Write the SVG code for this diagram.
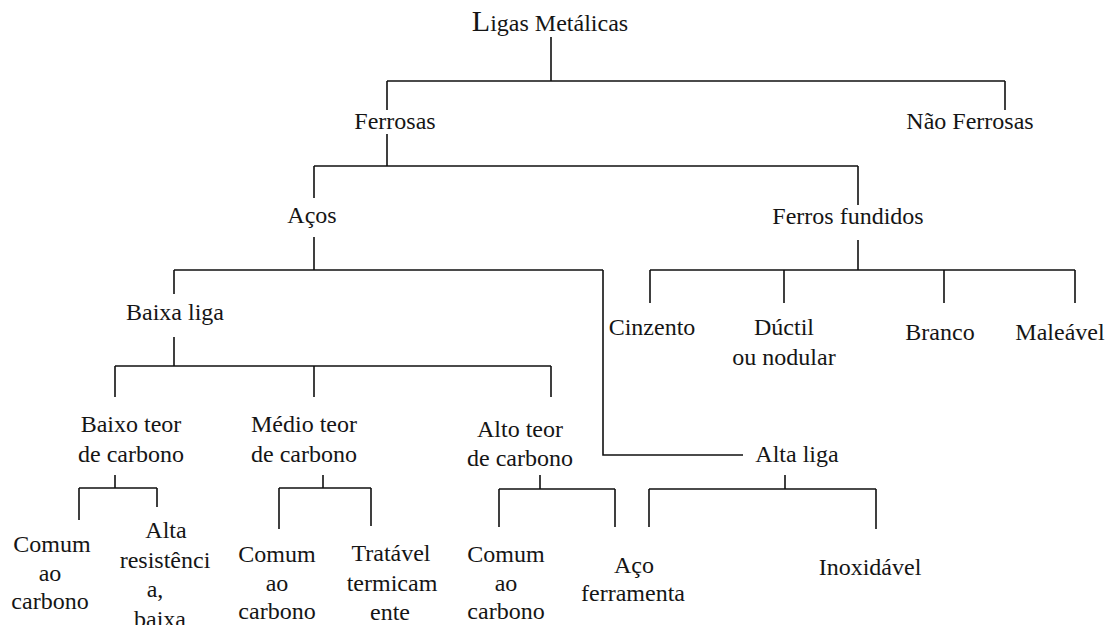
<svg xmlns="http://www.w3.org/2000/svg" width="1119" height="625" viewBox="0 0 1119 625">
<style>
.t{font-family:"Liberation Serif","Times New Roman",serif;font-size:24px;fill:#151515;text-anchor:middle}
.c{fill:none;stroke:#111;stroke-width:1.6}
</style>
<rect width="1119" height="625" fill="#fff"/>
<g id="connectors" class="c">
<path d="M551 37V81M387 81H1005M387 81V110M1005 81V110"/>
<path d="M387 134V166M314 166H858M314 166V198M858 166V205"/>
<path d="M314 237V270M174 270H603M174 270V294M603 270V455H743"/>
<path d="M858 240V270M650 270H1075M650 270V303M784 270V303M944 270V303M1075 270V303"/>
<path d="M174 337V366M115 366H551M115 366V397M314 366V397M551 366V397"/>
<path d="M115 475V488M79 488H157M79 488V520M157 488V507"/>
<path d="M323 475V488M279 488H371M279 488V529M371 488V526"/>
<path d="M540 475V489M499 489H615M499 489V527M615 489V527"/>
<path d="M785 475V489M649 489H876M649 489V527M876 489V529"/>
</g>
<g id="ligas"><text class="t" x="550" y="31"><tspan font-size="30">L</tspan>igas Metálicas</text></g>
<g id="ferrosas"><text class="t" x="395" y="129">Ferrosas</text></g>
<g id="nao-ferrosas"><text class="t" x="970" y="129">Não Ferrosas</text></g>
<g id="acos"><text class="t" x="312" y="223">Aços</text></g>
<g id="ferros-fundidos"><text class="t" x="848" y="224">Ferros fundidos</text></g>
<g id="baixa-liga"><text class="t" x="175" y="320">Baixa liga</text></g>
<g id="cinzento"><text class="t" x="652" y="335">Cinzento</text></g>
<g id="ductil"><text class="t" x="784" y="335">Dúctil</text><text class="t" x="784" y="365">ou nodular</text></g>
<g id="branco"><text class="t" x="940" y="340">Branco</text></g>
<g id="maleavel"><text class="t" x="1060" y="340">Maleável</text></g>
<g id="baixo-teor"><text class="t" x="131" y="432">Baixo teor</text><text class="t" x="131" y="462">de carbono</text></g>
<g id="medio-teor"><text class="t" x="304" y="432">Médio teor</text><text class="t" x="304" y="462">de carbono</text></g>
<g id="alto-teor"><text class="t" x="520" y="437">Alto teor</text><text class="t" x="520" y="466">de carbono</text></g>
<g id="alta-liga"><text class="t" x="797" y="462">Alta liga</text></g>
<g id="comum1"><text class="t" x="52" y="552">Comum</text><text class="t" x="50" y="581">ao</text><text class="t" x="50" y="609">carbono</text></g>
<g id="alta-resistencia"><text class="t" x="166" y="538">Alta</text><text class="t" x="165" y="568">resistênci</text><text class="t" x="155" y="597">a,</text><text class="t" x="160" y="627">baixa</text></g>
<g id="comum2"><text class="t" x="277" y="562">Comum</text><text class="t" x="277" y="591">ao</text><text class="t" x="277" y="619">carbono</text></g>
<g id="tratavel"><text class="t" x="391" y="561">Tratável</text><text class="t" x="392" y="591">termicam</text><text class="t" x="390" y="620">ente</text></g>
<g id="comum3"><text class="t" x="506" y="562">Comum</text><text class="t" x="506" y="591">ao</text><text class="t" x="506" y="619">carbono</text></g>
<g id="aco-ferramenta"><text class="t" x="634" y="573">Aço</text><text class="t" x="633" y="601">ferramenta</text></g>
<g id="inoxidavel"><text class="t" x="870" y="575">Inoxidável</text></g>
</svg>
